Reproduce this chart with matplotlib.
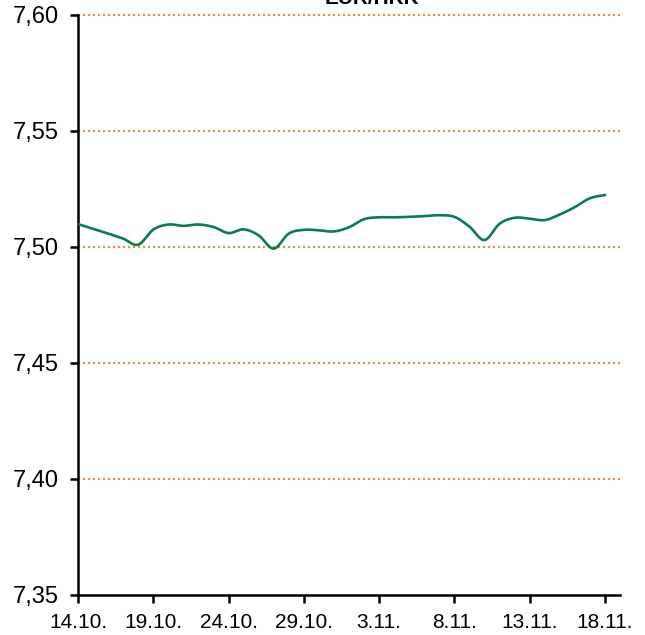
"""EUR/HRK exchange rate, 14.10. - 18.11.
"""
import numpy as np
import pandas as pd
import matplotlib
matplotlib.use('Agg')
import matplotlib.pyplot as plt

# daily rate, 14.10. .. 18.11.
dates = pd.date_range('2020-10-14', '2020-11-18', freq='D')
rate = [7.5099, 7.5078, 7.5058, 7.5036, 7.5010, 7.5075, 7.5097, 7.5091,
        7.5097, 7.5086, 7.5060, 7.5076, 7.5050, 7.4993, 7.5058, 7.5074,
        7.5072, 7.5067, 7.5085, 7.5120, 7.5128, 7.5128, 7.5130, 7.5133,
        7.5137, 7.5130, 7.5088, 7.5030, 7.5100, 7.5126, 7.5122, 7.5116,
        7.5140, 7.5172, 7.5210, 7.5224]
tick_labels = ['14.10.', '19.10.', '24.10.', '29.10.', '3.11.', '8.11.', '13.11.', '18.11.']
y_ticks = [7.35, 7.40, 7.45, 7.50, 7.55, 7.60]
title = 'EUR/HRK'


# smoothed line like excel (catmull-rom through the points)
def smooth(x, y, n=12):
    x = np.asarray(x, float)
    y = np.asarray(y, float)
    px = np.concatenate([[2 * x[0] - x[1]], x, [2 * x[-1] - x[-2]]])
    py = np.concatenate([[2 * y[0] - y[1]], y, [2 * y[-1] - y[-2]]])
    xs, ys = [], []
    t = np.linspace(0, 1, n, endpoint=False)
    for i in range(1, len(px) - 2):
        for p, out in ((px, xs), (py, ys)):
            p0, p1, p2, p3 = p[i - 1], p[i], p[i + 1], p[i + 2]
            out.append(0.5 * (2 * p1 + (-p0 + p2) * t + (2 * p0 - 5 * p1 + 4 * p2 - p3) * t ** 2
                              + (-p0 + 3 * p1 - 3 * p2 + p3) * t ** 3))
    xs.append([x[-1]])
    ys.append([y[-1]])
    return np.concatenate(xs), np.concatenate(ys)


plt.rcParams['font.family'] = ['Liberation Sans', 'DejaVu Sans']

fig = plt.figure(figsize=(6.45, 6.35), dpi=100)
ax = fig.add_axes([78 / 645, 1 - 595 / 635, 542 / 645, 580 / 635])

days = (dates - dates[0]).days
sx, sy = smooth(days, rate)
ax.plot(sx, sy, color='#0A7C4E', linewidth=1.9, zorder=3)

# dotted orange grid
for v in y_ticks[1:]:
    ax.axhline(v, color='#F28A3A', linestyle=(0, (1, 1.4)), linewidth=1.5, zorder=1, clip_on=False)

ax.set_ylim(7.35, 7.60)
ax.set_xlim(0, 36)
ax.set_yticks(y_ticks)
ax.set_yticklabels([f'{v:.2f}'.replace('.', ',') for v in y_ticks], fontsize=17)
ax.set_xticks(np.arange(0, 36, 5))
ax.set_xticklabels(tick_labels, fontsize=15)

for s in ['top', 'right']:
    ax.spines[s].set_visible(False)
for s in ['left', 'bottom']:
    ax.spines[s].set_linewidth(1.8)
ax.tick_params(axis='both', direction='out', length=6, width=1.8)
ax.tick_params(axis='y', pad=8)
ax.tick_params(axis='x', pad=7)

fig.text(372 / 645, 1 - 4 / 635, title, ha='center', va='baseline', fontsize=15, fontweight='bold')

fig.savefig('out.png', dpi=100)
